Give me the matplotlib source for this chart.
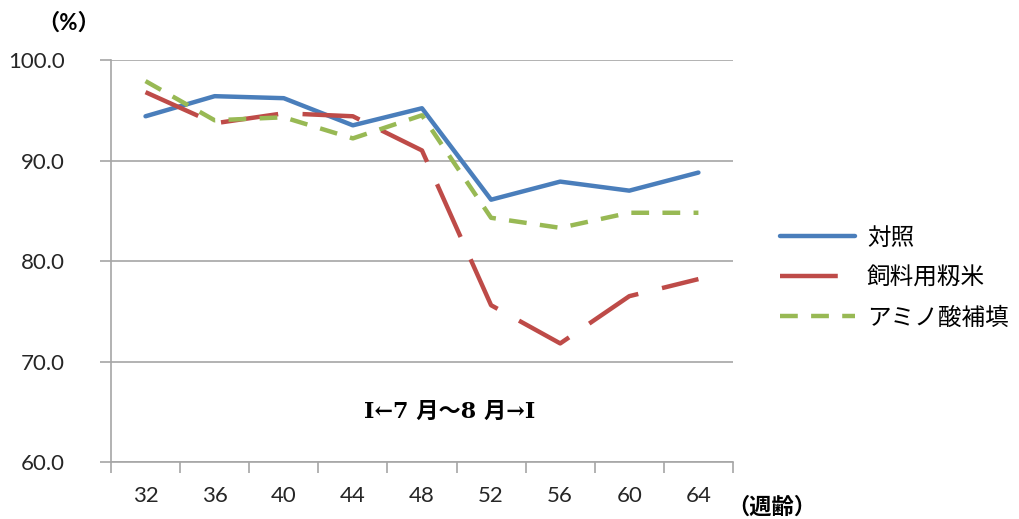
import matplotlib
matplotlib.use("Agg")
import matplotlib.pyplot as plt

plt.rcParams['font.family'] = ['Lato', 'Noto Sans CJK JP', 'DejaVu Sans']

weeks = ["32", "36", "40", "44", "48", "52", "56", "60", "64"]
control = [94.4, 96.4, 96.2, 93.5, 95.2, 86.1, 87.9, 87.0, 88.8]
feed_rice = [96.8, 93.7, 94.7, 94.4, 91.0, 75.6, 71.8, 76.5, 78.2]
amino = [97.9, 94.0, 94.3, 92.2, 94.5, 84.3, 83.3, 84.8, 84.8]

names = ["対照", "飼料用籾米", "アミノ酸補填"]
colors = ["#4a7ebb", "#be4b48", "#98b954"]
dashes = [None, (13, 5.5), (4, 3)]

fig = plt.figure(figsize=(10.2, 5.19), dpi=100)
ax = fig.add_axes([0.1088, 0.1098, 0.6098, 0.7746])

x = list(range(len(weeks)))
for vals, name, c, d in zip([control, feed_rice, amino], names, colors, dashes):
    if d is None:
        ax.plot(x, vals, color=c, lw=3.2, label=name, solid_capstyle='round', solid_joinstyle='round')
    else:
        ax.plot(x, vals, color=c, lw=3.2, label=name, dashes=d, dash_capstyle='butt')

ax.set_xlim(-0.5, 8.5)
ax.set_ylim(60, 100)
ax.set_yticks([60, 70, 80, 90, 100])
ax.set_yticklabels([f"{v:.1f}" for v in [60, 70, 80, 90, 100]])
ax.set_xticks(x)
ax.set_xticklabels(weeks)
ax.set_xticks([i - 0.5 for i in range(len(weeks) + 1)], minor=True)
ax.grid(axis='y', color='#a6a6a6', lw=1.2)
ax.set_axisbelow(True)

for s in ['top', 'right']:
    ax.spines[s].set_visible(False)
for s in ['left', 'bottom']:
    ax.spines[s].set_color('#a6a6a6')
    ax.spines[s].set_linewidth(1.2)

ax.tick_params(axis='x', which='major', length=0, pad=17, labelsize=16, colors='#262626')
ax.tick_params(axis='x', which='minor', length=8, color='#a6a6a6', width=1.2)
ax.tick_params(axis='y', length=8, color='#a6a6a6', width=1.2, pad=25, labelsize=16, labelcolor='#262626')

fig.text(0.067, 0.955, "（%）", fontsize=16, fontweight='bold', ha='center', va='center')
fig.text(0.757, 0.022, "（週齢）", fontsize=16, fontweight='bold', ha='center', va='center')
ax.text(4.4, 65.0, "I←7 月〜8 月→I", fontsize=16, fontweight='bold', ha='center', va='center',
        family=['DejaVu Serif', 'Noto Sans CJK JP'])

fig.legend(loc='center left', bbox_to_anchor=(0.755, 0.465), frameon=False, fontsize=17,
           handlelength=3.2, handletextpad=0.5, labelspacing=0.75, borderaxespad=0)

fig.savefig("out.png", dpi=100)
